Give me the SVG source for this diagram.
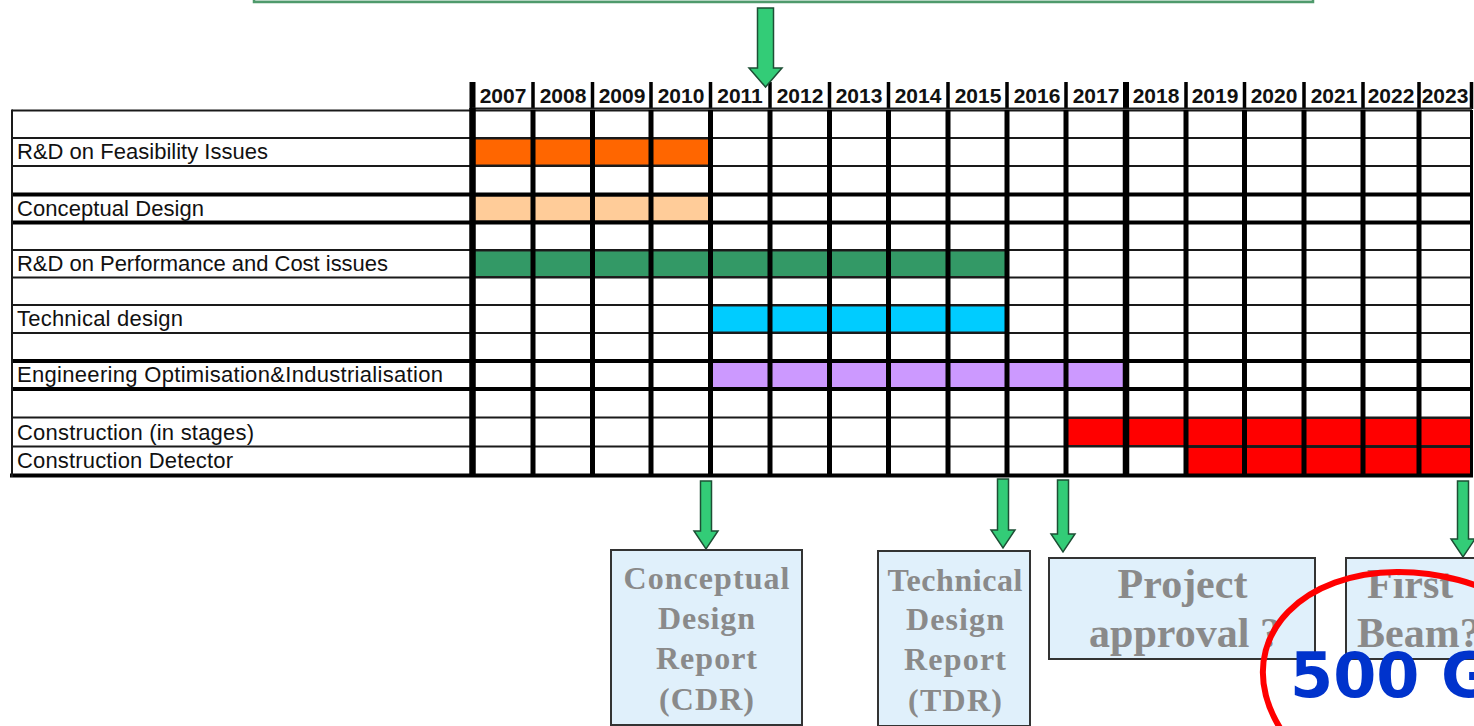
<svg xmlns="http://www.w3.org/2000/svg" width="1474" height="726" viewBox="0 0 1474 726">
  <style>
    .lbl { font-family: "Liberation Sans", Arial, sans-serif; font-size: 22px; fill: #111; }
    .yr { font-family: "Liberation Sans", Arial, sans-serif; font-size: 21px; font-weight: bold; fill: #111; text-anchor: middle; }
    .thin { stroke: #1a1a1a; stroke-width: 2; fill: none; }
    .thick { stroke: #000; stroke-width: 4; fill: none; }
    .vline { stroke: #000; stroke-width: 5; fill: none; }
    .hdiv { stroke: #000; stroke-width: 3.5; fill: none; }
    .bar { stroke: #222; stroke-width: 1; }
    .arrow { fill: #33cc77; stroke: #1d4f35; stroke-width: 1.5; }
    .box { fill: #e0f0fb; stroke: #333; stroke-width: 2; }
    .mtxt { font-family: "Liberation Serif", "Times New Roman", serif; font-weight: bold; fill: #8a8a8a; text-anchor: middle; }
  </style>

  <rect width="1474" height="726" fill="#ffffff"/>

  <!-- banner box running off the top edge -->
  <g id="banner">
    <rect x="254" y="-20" width="1059" height="22" fill="#d3e6da" stroke="#4f9a6c" stroke-width="2.5"/>
  </g>

  <!-- year header -->
  <g id="header">
    <path class="hdiv" d="M472.5,82V109 M533,82V109 M592.5,82V109 M651,82V109 M710.5,82V109 M770,82V109 M829.5,82V109 M888.5,82V109 M948,82V109 M1007,82V109 M1066,82V109 M1186,82V109 M1244.5,82V109 M1304,82V109 M1363,82V109 M1419,82V109 M1471.5,82V109"/>
    <path stroke="#000" stroke-width="6" d="M472.5,82V109 M1126,82V109"/>
    <path class="thin" stroke-width="1.5" d="M472,108.5H1472"/>
    <text class="yr" x="503" y="103">2007</text>
    <text class="yr" x="563" y="103">2008</text>
    <text class="yr" x="622" y="103">2009</text>
    <text class="yr" x="681" y="103">2010</text>
    <text class="yr" x="740" y="103">2011</text>
    <text class="yr" x="800" y="103">2012</text>
    <text class="yr" x="859" y="103">2013</text>
    <text class="yr" x="918" y="103">2014</text>
    <text class="yr" x="978" y="103">2015</text>
    <text class="yr" x="1037" y="103">2016</text>
    <text class="yr" x="1096" y="103">2017</text>
    <text class="yr" x="1156" y="103">2018</text>
    <text class="yr" x="1215" y="103">2019</text>
    <text class="yr" x="1274" y="103">2020</text>
    <text class="yr" x="1334" y="103">2021</text>
    <text class="yr" x="1391" y="103">2022</text>
    <text class="yr" x="1445" y="103">2023</text>
  </g>

  <!-- activity bars -->
  <g id="bars">
    <rect class="bar" x="472.5" y="139" width="238" height="26" fill="#ff6600"/>
    <rect class="bar" x="472.5" y="196" width="238" height="25" fill="#ffcc99"/>
    <rect class="bar" x="472.5" y="251" width="534.5" height="25.5" fill="#339966"/>
    <rect class="bar" x="710.5" y="306" width="296.5" height="26" fill="#00ccff"/>
    <rect class="bar" x="710.5" y="362.5" width="415.5" height="25" fill="#cc99ff"/>
    <rect class="bar" x="1066" y="418.5" width="405.5" height="27" fill="#ff0000"/>
    <rect class="bar" x="1186" y="447.5" width="285.5" height="27" fill="#ff0000"/>
  </g>

  <!-- grid -->
  <g id="grid">
    <path class="thin" d="M12,110.5H1472 M12,138H1472 M12,166H1472 M12,250H1472 M12,277.5H1472 M12,305H1472 M12,333H1472 M12,417.5H1472 M12,446.5H1472"/>
    <path class="thick" d="M12,194.5H1472 M12,222.5H1472 M12,361H1472 M12,389H1472 M10,475.5H1473"/>
    <path class="thin" stroke-width="2.5" d="M12,109.5V477"/>
    <path class="vline" d="M533,110V477 M592.5,110V477 M651,110V477 M710.5,110V477 M770,110V477 M829.5,110V477 M888.5,110V477 M948,110V477 M1007,110V477 M1066,110V477 M1186,110V477 M1244.5,110V477 M1304,110V477 M1363,110V477 M1419,110V477"/>
    <path stroke="#000" stroke-width="6.5" d="M472.5,108V477 M1126,110V477"/>
    <path stroke="#000" stroke-width="3" d="M1471.5,110V477"/>
  </g>

  <!-- row labels -->
  <g id="labels">
    <text class="lbl" x="17" y="159" textLength="251">R&amp;D on Feasibility Issues</text>
    <text class="lbl" x="17" y="216" textLength="187">Conceptual Design</text>
    <text class="lbl" x="17" y="271" textLength="371">R&amp;D on Performance and Cost issues</text>
    <text class="lbl" x="17" y="326" textLength="166">Technical design</text>
    <text class="lbl" x="17" y="382" textLength="426">Engineering Optimisation&amp;Industrialisation</text>
    <text class="lbl" x="17" y="440" textLength="237">Construction (in stages)</text>
    <text class="lbl" x="17" y="468" textLength="216">Construction Detector</text>
  </g>

  <!-- milestone arrows -->
  <g id="connectors">
    <path class="arrow" d="M757.5,8H773.5V68H782L765.5,87L749,68H757.5Z"/>
    <path class="arrow" d="M700.5,481H711.5V531H718L706,549L694,531H700.5Z"/>
    <path class="arrow" d="M997.5,479H1008.5V530H1015L1003,548L991,530H997.5Z"/>
    <path class="arrow" d="M1057.5,480H1068.5V534H1075L1063,552L1051,534H1057.5Z"/>
    <path class="arrow" d="M1457.5,481H1468.5V539H1475L1463,557L1451,539H1457.5Z"/>
  </g>

  <!-- milestone boxes -->
  <g id="cdr">
    <rect class="box" x="611" y="550" width="191" height="175"/>
    <text class="mtxt" font-size="32" x="706.5" y="589" textLength="166">Conceptual</text>
    <text class="mtxt" font-size="32" x="706.5" y="629" textLength="97">Design</text>
    <text class="mtxt" font-size="32" x="706.5" y="669" textLength="101">Report</text>
    <text class="mtxt" font-size="32" x="706.5" y="710" textLength="95">(CDR)</text>
  </g>
  <g id="tdr">
    <rect class="box" x="878" y="551" width="152" height="175"/>
    <text class="mtxt" font-size="32" x="955" y="591" textLength="135">Technical</text>
    <text class="mtxt" font-size="32" x="955" y="630" textLength="98">Design</text>
    <text class="mtxt" font-size="32" x="955" y="670" textLength="102">Report</text>
    <text class="mtxt" font-size="32" x="955" y="711" textLength="94">(TDR)</text>
  </g>
  <g id="approval">
    <rect class="box" x="1049" y="558" width="266" height="101"/>
    <text class="mtxt" font-size="42" x="1182.5" y="598">Project</text>
    <text class="mtxt" font-size="42" x="1185" y="647">approval ?</text>
  </g>
  <g id="first-beam">
    <rect class="box" x="1346" y="558" width="140" height="101"/>
    <text class="mtxt" font-size="42" x="1367" y="598" style="text-anchor:start">First</text>
    <text class="mtxt" font-size="42" x="1357" y="647" style="text-anchor:start">Beam?</text>
  </g>

  <!-- energy callout -->
  <g id="energy">
    <ellipse cx="1428" cy="694" rx="168" ry="118" transform="rotate(15 1428 694)" fill="none" stroke="#ff0000" stroke-width="6"/>
    <text x="1290" y="697" font-family="'DejaVu Sans', sans-serif" font-weight="bold" font-size="62" fill="#0033cc">500 G</text>
  </g>
</svg>
